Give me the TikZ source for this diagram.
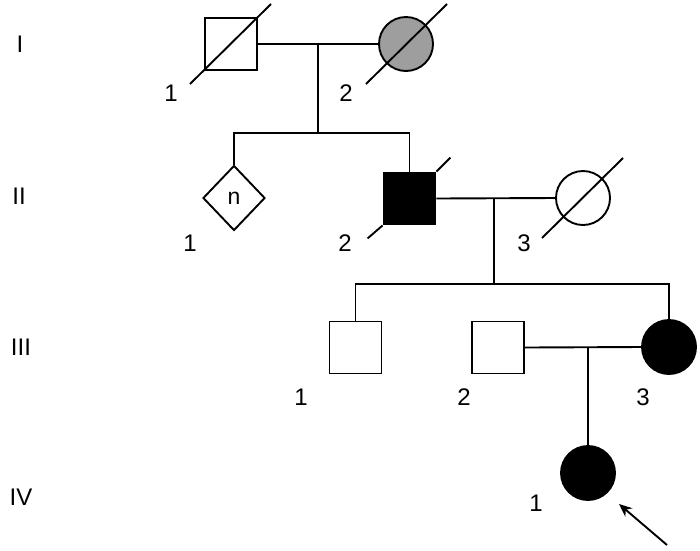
\documentclass[tikz,border=0pt]{standalone}
\usepackage{fontspec}
\setmainfont{Liberation Sans}
\usetikzlibrary{shapes.geometric,arrows.meta,calc}
\begin{document}
\begin{tikzpicture}[x=1pt,y=-1pt,line width=1.9pt,
  sq/.style={draw,rectangle,minimum size=52pt,inner sep=0pt},
  ci/.style={draw,circle,minimum size=54pt,inner sep=0pt},
  dia/.style={draw,diamond,minimum width=62pt,minimum height=65pt,inner sep=0pt,font=\fontsize{23}{26}\selectfont},
  lbl/.style={inner sep=0pt,font=\fontsize{24}{28}\selectfont},
  aff/.style={fill=black},
  carr/.style={fill=black!38}]
\useasboundingbox (0,0) rectangle (700,550);
% generation labels
\node[lbl] (gI) at (20,44) {I};
\node[lbl] (gII) at (19,196) {II};
\node[lbl] (gIII) at (21,347) {III};
\node[lbl] (gIV) at (21,497) {IV};
% generation I
\node[sq] (I1) at (231,44) {};
\node[ci,carr] (I2) at (406,44) {};
\draw ($(I1)+(-41,40)$) coordinate (I1a) -- ($(I1)+(40,-40)$) coordinate (I1b);
\draw ($(I2)+(-40,40)$) coordinate (I2a) -- ($(I2)+(41,-40)$) coordinate (I2b);
\node[lbl] (lI1) at (171,93) {1};
\node[lbl] (lI2) at (346,93) {2};
\coordinate (mI) at (318,44);
\draw (I1.east) -- (I2.west);
% generation II
\node[dia] (II1) at (234,198) {n};
\node[sq,aff] (II2) at (409.5,198.5) {};
\node[ci] (II3) at (583,198) {};
\draw (II2.north east) -- ++(14,-14);
\draw (II2.south west) -- ++(-15,13);
\draw ($(II3)+(-41,40)$) coordinate (II3a) -- ($(II3)+(40,-40)$) coordinate (II3b);
\node[lbl] (lII1) at (190,243) {1};
\node[lbl] (lII2) at (345,243) {2};
\node[lbl] (lII3) at (524,243) {3};
\coordinate (sI) at (318,133);
\draw (mI) -- (sI);
\draw (II1.north) |- (sI) -| (II2.north);
\coordinate (mII) at (494,198);
\draw (II2.east) -- (II3.west);
% generation III
\node[sq] (III1) at (355.5,347.5) {};
\node[sq] (III2) at (498,347.5) {};
\node[ci,aff] (III3) at (669,347) {};
\node[lbl] (lIII1) at (301,397) {1};
\node[lbl] (lIII2) at (464,397) {2};
\node[lbl] (lIII3) at (643,397) {3};
\coordinate (sII) at (494,284);
\draw (mII) -- (sII);
\draw (III1.north) |- (sII) -| (III3.north);
\draw (III2.east) -- (III3.west);
\coordinate (mIII) at (588,347);
% generation IV
\node[ci,aff] (IV1) at (588,473) {};
\node[lbl] (lIV1) at (536,503) {1};
\draw (mIII) -- (IV1.north);
\coordinate (arT) at (667,545);
\coordinate (arH) at (619,504);
\draw[-{Stealth[length=13pt,width=11pt]}] (arT) -- (arH);
\end{tikzpicture}
\end{document}
